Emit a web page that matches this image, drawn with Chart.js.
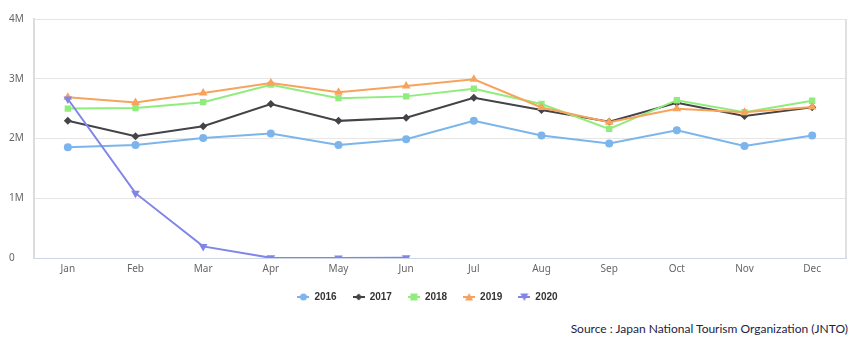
<!DOCTYPE html>
<html lang="en">
<head>
  <meta charset="UTF-8">
  <title>Visitor arrivals to Japan</title>
  <script src="https://cdn.jsdelivr.net/npm/chart.js"></script>
  <style>
    body { margin: 0; background: #fff; }
    #wrap { position: relative; width: 857px; height: 312px; }
    #source {
      position: absolute; top: 321px; right: 9px;
      font: 12px Lato, "Noto Sans", sans-serif; color: #23233f;
    }
  </style>
</head>
<body>
  <div id="wrap"><canvas id="chart"></canvas></div>
  <div id="source">Source : Japan National Tourism Organization (JNTO)</div>

  <script>
    const months = ["Jan", "Feb", "Mar", "Apr", "May", "Jun", "Jul", "Aug", "Sep", "Oct", "Nov", "Dec"];
    const years = ["2016", "2017", "2018", "2019", "2020"];
    const y2016 = [1852000, 1891000, 2010000, 2082000, 1891000, 1986000, 2296000, 2049000, 1918000, 2136000, 1875000, 2052000];
    const y2017 = [2296000, 2036000, 2206000, 2578000, 2295000, 2346000, 2682000, 2478000, 2279000, 2596000, 2378000, 2521000];
    const y2018 = [2501000, 2509000, 2608000, 2901000, 2675000, 2705000, 2832000, 2578000, 2160000, 2641000, 2441000, 2632000];
    const y2019 = [2689000, 2604000, 2760000, 2927000, 2773000, 2880000, 2991000, 2520000, 2273000, 2497000, 2441000, 2526000];
    const y2020 = [2661000, 1085000, 194000, 2900, 1700, 2600];
    const yTicks = [0, 1000000, 2000000, 3000000, 4000000];

    const colors = ["#7cb5ec", "#434348", "#90ed7d", "#f7a35c", "#8085e9"];
    const shapes = ["circle", "rectRot", "rect", "triangle", "triangle"];
    const rotations = [0, 0, 0, 0, 180];
    const radii = [4, 4, 4.5, 5, 5];
    const series = [y2016, y2017, y2018, y2019, y2020];

    // little line + marker icon for the legend
    function legendIcon(i) {
      const c = document.createElement("canvas");
      c.width = 12; c.height = 10;
      const g = c.getContext("2d");
      g.strokeStyle = colors[i]; g.fillStyle = colors[i]; g.lineWidth = 2;
      g.beginPath(); g.moveTo(0, 5); g.lineTo(12, 5); g.stroke();
      g.beginPath();
      if (i === 0) g.arc(6, 5, 3.5, 0, Math.PI * 2);
      else if (i === 1) { g.moveTo(6, 1.5); g.lineTo(9.5, 5); g.lineTo(6, 8.5); g.lineTo(2.5, 5); }
      else if (i === 2) g.rect(2.5, 1.5, 7, 7);
      else if (i === 3) { g.moveTo(6, 1); g.lineTo(10, 8.5); g.lineTo(2, 8.5); }
      else { g.moveTo(6, 9); g.lineTo(10, 1.5); g.lineTo(2, 1.5); }
      g.fill();
      return c;
    }

    const rightBorder = {
      id: "rightBorder",
      afterDraw(chart) {
        const a = chart.chartArea, ctx = chart.ctx;
        ctx.save();
        ctx.strokeStyle = "#e0e0e0"; ctx.lineWidth = 2;
        ctx.beginPath(); ctx.moveTo(a.right, a.top); ctx.lineTo(a.right, a.bottom); ctx.stroke();
        ctx.restore();
      }
    };

    new Chart(document.getElementById("chart"), {
      type: "line",
      data: {
        labels: months,
        datasets: years.map((y, i) => ({
          label: y,
          data: series[i],
          borderColor: colors[i],
          backgroundColor: colors[i],
          borderWidth: 2,
          pointStyle: shapes[i],
          pointRotation: rotations[i],
          pointRadius: radii[i],
          pointBorderWidth: 0,
          tension: 0,
          order: 5 - i
        }))
      },
      options: {
        responsive: true,
        maintainAspectRatio: false,
        animation: false,
        events: [],
        layout: { padding: { top: 19, right: 11, left: 9, bottom: 0 } },
        plugins: {
          tooltip: { enabled: false },
          legend: {
            position: "bottom",
            labels: {
              usePointStyle: true,
              pointStyleWidth: 12,
              padding: 16,
              color: "#333",
              font: { family: "'Liberation Sans', Arial", size: 10, weight: "bold" },
              sort: (a, b) => a.datasetIndex - b.datasetIndex,
              generateLabels(chart) {
                return chart.data.datasets.map((d, i) => ({
                  text: d.label,
                  datasetIndex: i,
                  pointStyle: legendIcon(i),
                  fillStyle: colors[i],
                  strokeStyle: colors[i],
                  lineWidth: 0,
                  fontColor: "#333",
                  hidden: false
                }));
              }
            }
          }
        },
        scales: {
          x: {
            offset: true,
            grid: { display: false, drawTicks: false },
            border: { color: "#ccd6eb", width: 1 },
            ticks: {
              padding: 5,
              color: "#666",
              font: { family: "'Noto Sans'", size: 10 }
            },
            afterFit(s) { s.height = 18; }
          },
          y: {
            min: 0,
            max: 4000000,
            afterBuildTicks(s) { s.ticks = yTicks.map(v => ({ value: v })); },
            grid: { color: "#e6e6e6", drawTicks: false },
            border: { color: "#dcdcdc", width: 2 },
            ticks: {
              crossAlign: "far",
              padding: 0,
              color: "#666",
              font: { family: "'Noto Sans'", size: 10 },
              callback: v => v === 0 ? "0" : (v / 1000000) + "M"
            },
            afterFit(s) { s.width = 25; }
          }
        }
      },
      plugins: [rightBorder]
    });
  </script>
</body>
</html>
